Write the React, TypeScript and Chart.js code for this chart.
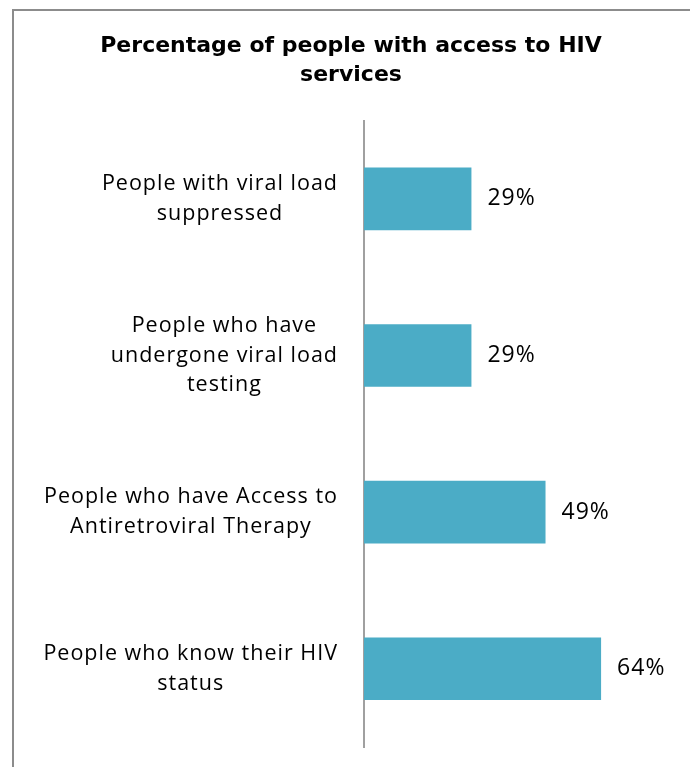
import React, { useEffect, useRef } from "react";
import { Chart, registerables } from "chart.js";

Chart.register(...registerables);

const categories: string[][] = [
  ["People with viral load", "suppressed"],
  ["People who have", "undergone viral load", "testing"],
  ["People who have Access to", "Antiretroviral Therapy"],
  ["People who know their HIV", "status"],
];
const values: number[] = [29, 29, 49, 64];
const titleLines: string[] = ["Percentage of people with access to HIV", "services"];

const FONT = "'Open Sans', sans-serif";
const TITLE_FONT = "'DejaVu Sans', sans-serif";

export default function App() {
  const ref = useRef<HTMLCanvasElement | null>(null);

  useEffect(() => {
    if (!ref.current) return;

    const labelPlugin = {
      id: "catLabels",
      afterDraw(chart: any) {
        const ctx = chart.ctx;
        const yScale = chart.scales.y;
        const right = chart.chartArea.left - 26;
        const LH = 29.5;
        ctx.save();
        ctx.fillStyle = "#000";
        ctx.font = `21.5px ${FONT}`;
        (ctx as any).letterSpacing = "1px";
        ctx.textAlign = "center";
        ctx.textBaseline = "middle";
        categories.forEach((lines, i) => {
          const y = yScale.getPixelForValue(i);
          const maxW = Math.max(...lines.map((l) => ctx.measureText(l).width));
          const cx = right - maxW / 2;
          const startY = y - ((lines.length - 1) * LH) / 2;
          lines.forEach((l, j) => ctx.fillText(l, cx, startY + j * LH));
        });
        // value labels
        const meta = chart.getDatasetMeta(0);
        ctx.font = `23px ${FONT}`;
        (ctx as any).letterSpacing = "1px";
        ctx.textAlign = "left";
        meta.data.forEach((el: any, i: number) => {
          ctx.fillText(values[i] + "%", el.x + 16, el.y);
        });
        ctx.restore();
      },
    };

    const chart = new Chart(ref.current, {
      type: "bar",
      data: {
        labels: categories.map((c) => c.join(" ")),
        datasets: [
          {
            data: values,
            backgroundColor: "#4BACC6",
            borderWidth: 0,
            categoryPercentage: 1,
            barPercentage: 0.4,
          },
        ],
      },
      options: {
        indexAxis: "y",
        animation: false,
        responsive: true,
        maintainAspectRatio: false,
        layout: { padding: { left: 12, right: 0, top: 0, bottom: 20 } },
        plugins: {
          legend: { display: false },
          tooltip: { enabled: false },
          title: {
            display: true,
            text: titleLines,
            color: "#000",
            font: { family: TITLE_FONT, size: 22, weight: "bold", lineHeight: 1.32 },
            padding: { top: 32, bottom: 30.5 },
          },
        },
        scales: {
          x: {
            display: false,
            min: 0,
            max: 88,
          },
          y: {
            grid: { display: false },
            border: { display: true, color: "#A0A0A0", width: 2 },
            ticks: { display: false },
            afterFit(scale: any) {
              scale.width = 352;
            },
          },
        },
      },
      plugins: [labelPlugin],
    });

    return () => chart.destroy();
  }, []);

  return (
    <div style={{ position: "absolute", left: 0, top: 0, width: 690, height: 767, overflow: "hidden" }}>
      <div
        style={{
          position: "absolute",
          left: 12,
          top: 9,
          width: 700,
          height: 800,
          borderLeft: "2px solid #8C8C8C",
          borderTop: "2px solid #8C8C8C",
        }}
      />
      <div style={{ position: "absolute", left: 0, top: 0, width: 690, height: 767 }}>
        <canvas ref={ref} />
      </div>
    </div>
  );
}
